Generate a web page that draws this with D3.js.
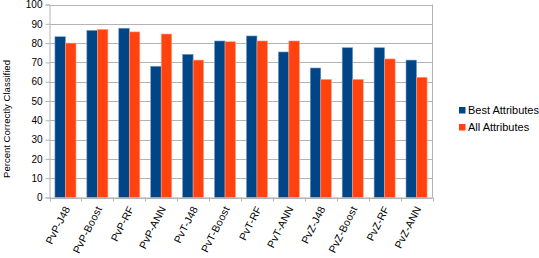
<!DOCTYPE html>
<html>
<head>
<meta charset="utf-8">
<script src="https://cdn.jsdelivr.net/npm/d3@7"></script>
<style>
body { margin: 0; background: #fff; }
text { font-family: "Liberation Sans", Arial, sans-serif; }
</style>
</head>
<body>
<div id="chart"></div>
<script>
var categories = ["PvP-J48", "PvP-Boost", "PvP-RF", "PvP-ANN", "PvT-J48", "PvT-Boost", "PvT-RF", "PvT-ANN", "PvZ-J48", "PvZ-Boost", "PvZ-RF", "PvZ-ANN"];
var seriesNames = ["Best Attributes", "All Attributes"];
var bestValues = [83.3, 86.6, 87.7, 68, 74.2, 81.1, 83.7, 75.4, 67.1, 77.6, 77.6, 71.2];
var allValues = [80, 87.1, 85.8, 84.7, 71.2, 80.7, 81.1, 81.1, 61.2, 61.2, 71.8, 62.3];
var yTicks = [0, 10, 20, 30, 40, 50, 60, 70, 80, 90, 100];
var colors = ["#004586", "#ff420e"];

var width = 539, height = 258;
var margin = {top: 4.5, left: 49.5, right: 106.5, bottom: 60.5};

var svg = d3.select("#chart").append("svg")
    .attr("width", width)
    .attr("height", height);

var x = d3.scaleBand()
    .domain(categories)
    .range([margin.left, width - margin.right])
    .paddingInner(0.34)
    .paddingOuter(0.17);
var xs = d3.scaleBand().domain(seriesNames).range([0, x.bandwidth()]);
var y = d3.scaleLinear().domain([0, 100]).range([height - margin.bottom, margin.top]);

// grid
svg.append("g").selectAll("line")
    .data(yTicks)
    .enter().append("line")
    .attr("x1", margin.left).attr("x2", width - margin.right)
    .attr("y1", function(d) { return Math.round(y(d)) + 0.5; })
    .attr("y2", function(d) { return Math.round(y(d)) + 0.5; })
    .attr("stroke", "#b3b3b3");

// right border
svg.append("line")
    .attr("x1", width - margin.right).attr("x2", width - margin.right)
    .attr("y1", y(100)).attr("y2", y(0))
    .attr("stroke", "#b3b3b3");

var data = categories.map(function(c, i) {
  return {cat: c, vals: [
    {name: seriesNames[0], v: bestValues[i]},
    {name: seriesNames[1], v: allValues[i]}
  ]};
});

var groups = svg.append("g").selectAll("g")
    .data(data)
    .enter().append("g")
    .attr("transform", function(d) { return "translate(" + x(d.cat) + ",0)"; });

groups.selectAll("rect")
    .data(function(d) { return d.vals; })
    .enter().append("rect")
    .attr("x", function(d) { return xs(d.name); })
    .attr("width", xs.bandwidth())
    .attr("y", function(d) { return y(d.v); })
    .attr("height", function(d) { return y(0) - y(d.v); })
    .attr("fill", function(d, i) { return colors[i]; })
    .attr("stroke", function(d, i) { return i == 0 ? "#7f9fc0" : "#ff9f87"; })
    .attr("stroke-width", 0.6);

// y axis
var yAxis = svg.append("g")
    .attr("transform", "translate(" + margin.left + ",0)")
    .call(d3.axisLeft(y).tickValues(yTicks).tickSize(4).tickPadding(3));
yAxis.select(".domain").attr("stroke", "#b3b3b3");
yAxis.selectAll(".tick line").attr("stroke", "#b3b3b3");
yAxis.selectAll("text").style("font-size", "10px").attr("fill", "#000");

// x axis
var xAxis = svg.append("g")
    .attr("transform", "translate(0," + y(0) + ")")
    .call(d3.axisBottom(x).tickSize(0).tickFormat(""));
xAxis.select(".domain").attr("stroke", "#b3b3b3");

var edges = d3.range(categories.length + 1).map(function(i) { return margin.left + i * (width - margin.left - margin.right) / categories.length; });
svg.append("g").selectAll("line")
    .data(edges)
    .enter().append("line")
    .attr("x1", function(d) { return Math.round(d) + 0.5; })
    .attr("x2", function(d) { return Math.round(d) + 0.5; })
    .attr("y1", y(0)).attr("y2", y(0) + 4)
    .attr("stroke", "#b3b3b3");

svg.append("g").selectAll("text")
    .data(categories)
    .enter().append("text")
    .attr("transform", function(d) {
      return "translate(" + (x(d) + x.bandwidth() / 2 + 5) + "," + (y(0) + 11) + ") rotate(-63)";
    })
    .attr("text-anchor", "end")
    .style("font-size", "10.5px")
    .style("letter-spacing", "0.2px")
    .attr("fill", "#000")
    .text(function(d) { return d; });

// y title
svg.append("text")
    .attr("transform", "translate(10,119) rotate(-90)")
    .attr("text-anchor", "middle")
    .style("font-size", "8.5px")
    .attr("textLength", 118)
    .attr("lengthAdjust", "spacingAndGlyphs")
    .attr("fill", "#000")
    .text("Percent Correctly Classified");

// legend
var legend = svg.append("g").selectAll("g")
    .data(seriesNames)
    .enter().append("g")
    .attr("transform", function(d, i) { return "translate(459," + (107 + i * 17) + ")"; });
legend.append("rect")
    .attr("width", 6.5).attr("height", 6.5)
    .attr("fill", function(d, i) { return colors[i]; });
legend.append("text")
    .attr("x", 9).attr("y", 7)
    .style("font-size", "11px")
    .attr("fill", "#000")
    .text(function(d) { return d; });
</script>
</body>
</html>
